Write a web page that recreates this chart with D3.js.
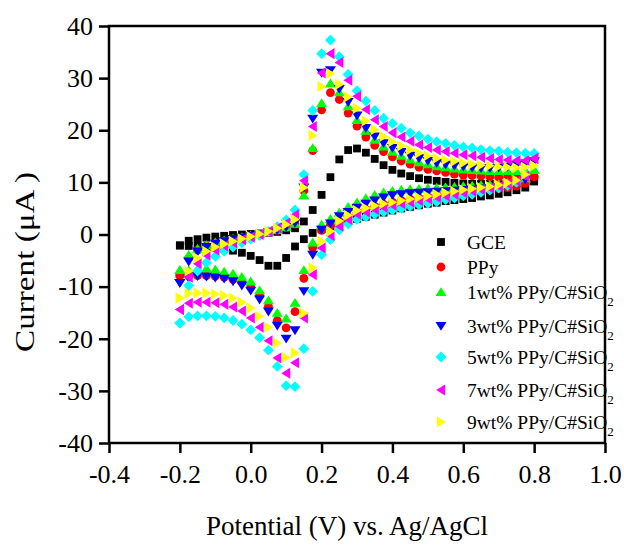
<!DOCTYPE html>
<meta charset="utf-8">
<style>

body {
  margin: 0;
  background: #fff;
}

svg {
  display: block;
  font-family: "Liberation Serif", "Times New Roman", serif;
}

.axis line {
  stroke: #000;
  stroke-width: 2.5;
}

.frame {
  fill: none;
  stroke: #000;
  stroke-width: 2.5;
}

.title {
  font-size: 27px;
}

.legend text {
  font-size: 19.5px;
}

</style>
<body>
<script src="https://d3js.org/d3.v7.min.js"></script>
<script>

// potential steps of the sweep (V)
var potential = [-0.2, -0.175, -0.15, -0.125, -0.1, -0.075, -0.05, -0.025, 0, 0.025,
  0.05, 0.075, 0.1, 0.125, 0.15, 0.175, 0.2, 0.225, 0.25, 0.275,
  0.3, 0.325, 0.35, 0.375, 0.4, 0.425, 0.45, 0.475, 0.5, 0.525,
  0.55, 0.575, 0.6, 0.625, 0.65, 0.675, 0.7, 0.725, 0.75, 0.775, 0.8];

// forward sweeps (-0.2 -> 0.8), current in uA
var gceFwd = [-2.1, -1.2, -0.9, -0.6, -0.4, -0.25, -0.1, 0.0, 0.1, 0.2, 0.35, 0.5, 0.8, 1.2, 2.5, 4.7, 7.6, 11.0, 14.4, 16.2,
  16.5, 15.7, 14.5, 13.3, 12.4, 11.7, 11.2, 10.8, 10.5, 10.3, 10.1, 9.9, 9.8, 9.7, 9.7, 9.7, 9.7, 9.8, 9.9, 10.0, 10.2];
var ppyFwd = [-7.9, -4.5, -3.0, -2.2, -1.7, -1.3, -0.9, -0.6, -0.3, 0.0, 0.4, 0.8, 1.3, 2.0, 8.4, 16.1, 23.9, 27.2, 25.9, 23.3,
  20.8, 18.7, 17.1, 15.9, 14.9, 14.1, 13.5, 12.9, 12.5, 12.2, 11.9, 11.6, 11.4, 11.3, 11.2, 11.1, 11.0, 11.0, 11.0, 11.0, 11.1];
var wt1Fwd = [-6.8, -3.9, -2.7, -2.0, -1.5, -1.1, -0.8, -0.5, -0.2, 0.1, 0.5, 0.9, 1.4, 2.1, 7.5, 16.6, 25.2, 29.0, 27.3, 24.6,
  22.0, 19.9, 18.2, 16.9, 15.9, 15.1, 14.4, 13.9, 13.5, 13.1, 12.9, 12.7, 12.5, 12.4, 12.3, 12.2, 12.2, 12.2, 12.2, 12.3, 12.4];
var wt3Fwd = [-9.3, -5.2, -3.3, -2.4, -1.8, -1.3, -0.9, -0.6, -0.3, 0.0, 0.4, 0.8, 1.4, 2.2, 9.0, 22.2, 31.0, 31.5, 27.9, 25.4,
  22.8, 20.4, 18.8, 17.5, 16.6, 15.8, 15.1, 14.6, 14.1, 13.7, 13.4, 13.2, 13.0, 12.8, 12.7, 12.7, 12.8, 13.0, 13.3, 13.6, 14.0];
var wt5Fwd = [-17.0, -9.8, -7.0, -5.4, -4.2, -3.2, -2.4, -1.6, -0.9, -0.2, 0.6, 1.5, 2.8, 4.7, 11.5, 23.8, 34.7, 37.3, 34.1, 30.7,
  27.6, 25.6, 23.8, 22.3, 21.3, 20.4, 19.5, 18.9, 18.3, 17.8, 17.5, 17.1, 16.8, 16.6, 16.3, 16.1, 16.0, 15.8, 15.7, 15.6, 15.5];
var wt7Fwd = [-14.4, -8.2, -5.6, -4.0, -3.0, -2.2, -1.6, -1.0, -0.5, 0.0, 0.6, 1.3, 2.2, 3.8, 10.3, 20.7, 31.0, 34.7, 33.0, 29.6,
  26.5, 24.0, 22.0, 20.7, 19.5, 18.7, 17.9, 17.2, 16.7, 16.2, 15.9, 15.6, 15.3, 15.1, 14.8, 14.6, 14.4, 14.3, 14.2, 14.2, 14.6];
var wt9Fwd = [-12.2, -7.0, -4.5, -3.2, -2.4, -1.8, -1.3, -0.8, -0.4, 0.1, 0.6, 1.2, 1.9, 2.9, 9.0, 19.0, 28.4, 30.9, 28.8, 26.4,
  24.2, 21.8, 20.1, 18.8, 17.8, 17.0, 16.2, 15.6, 15.1, 14.6, 14.3, 14.0, 13.7, 13.5, 13.3, 13.2, 13.0, 12.9, 12.8, 12.9, 13.2];

// reverse sweeps (0.8 -> -0.2)
var gceRev = [10.2, 9.0, 8.5, 8.1, 7.8, 7.5, 7.3, 7.0, 6.8, 6.6, 6.4, 6.1, 5.9, 5.6, 5.3, 5.0, 4.6, 4.2, 3.8, 3.4,
  3.0, 2.6, 2.1, 1.6, 1.0, 0.3, -0.9, -2.3, -4.5, -6.0, -6.0, -4.9, -4.1, -3.5, -3.1, -2.8, -2.6, -2.4, -2.3, -2.2, -2.1];
var ppyRev = [11.1, 9.8, 9.3, 9.0, 8.8, 8.6, 8.4, 8.2, 8.0, 7.8, 7.6, 7.4, 7.2, 7.0, 6.8, 6.5, 6.2, 5.8, 5.4, 4.8,
  4.2, 3.4, 2.5, 1.7, 0.8, -2.5, -8.4, -14.8, -17.9, -16.5, -13.8, -11.7, -10.1, -9.2, -8.6, -8.2, -8.0, -7.9, -7.9, -7.9, -7.9];
var wt1Rev = [12.4, 10.8, 10.2, 9.9, 9.7, 9.6, 9.5, 9.4, 9.3, 9.2, 9.1, 9.0, 8.9, 8.8, 8.7, 8.6, 8.4, 8.1, 7.6, 7.0,
  6.2, 5.3, 4.2, 3.0, 1.9, -1.5, -6.8, -13.1, -16.1, -15.0, -12.6, -10.7, -9.0, -8.1, -7.5, -7.1, -6.7, -6.5, -6.6, -6.8, -6.8];
var wt3Rev = [14.0, 10.5, 9.8, 9.4, 9.1, 8.9, 8.8, 8.6, 8.5, 8.4, 8.3, 8.2, 8.1, 8.0, 7.9, 7.7, 7.5, 7.1, 6.5, 5.9,
  5.1, 4.3, 3.5, 2.1, 0.9, -3.9, -10.9, -18.4, -20.0, -17.5, -14.8, -12.5, -10.8, -9.8, -9.0, -8.5, -8.3, -8.1, -8.0, -8.4, -9.3];
var wt5Rev = [15.5, 11.5, 10.0, 9.4, 8.9, 8.5, 8.1, 7.7, 7.4, 7.0, 6.7, 6.3, 6.0, 5.7, 5.4, 5.0, 4.7, 4.3, 3.9, 3.4,
  2.9, 2.0, 0.9, -1.0, -3.9, -10.9, -21.9, -29.2, -29.0, -25.3, -22.2, -19.8, -18.3, -17.2, -16.5, -16.0, -15.7, -15.6, -15.6, -15.8, -17.0];
var wt7Rev = [14.6, 11.2, 10.2, 9.7, 9.2, 8.9, 8.6, 8.3, 8.0, 7.7, 7.4, 7.1, 6.8, 6.5, 6.2, 5.9, 5.6, 5.2, 4.8, 4.3,
  3.9, 2.9, 1.6, -0.2, -2.6, -7.7, -16.0, -24.6, -26.6, -23.7, -20.4, -17.8, -16.0, -14.7, -13.9, -13.4, -13.1, -13.0, -13.0, -13.2, -14.4];
var wt9Rev = [13.2, 11.5, 10.4, 9.9, 9.5, 9.2, 9.0, 8.8, 8.6, 8.3, 8.0, 7.7, 7.4, 7.1, 6.8, 6.5, 6.2, 5.9, 5.5, 5.1,
  4.6, 3.7, 2.6, 0.6, -1.3, -6.4, -15.1, -22.7, -23.6, -20.8, -17.8, -15.7, -14.1, -13.0, -12.2, -11.7, -11.4, -11.2, -11.2, -11.3, -12.2];

var labels = ["GCE", "PPy", "1wt% PPy/C#SiO", "3wt% PPy/C#SiO", "5wt% PPy/C#SiO", "7wt% PPy/C#SiO", "9wt% PPy/C#SiO"];
var colors = ["#000000", "#ff0000", "#00ff00", "#0000ff", "#00ffff", "#ff00ff", "#ffff00"];
var xTicks = [-0.4, -0.2, 0.0, 0.2, 0.4, 0.6, 0.8, 1.0];
var yTicks = [-40, -30, -20, -10, 0, 10, 20, 30, 40];

// marker shapes, size = half extent in px
var shapes = {
  square:  {draw: function(c, r) { c.rect(-r, -r, 2 * r, 2 * r); }},
  circle:  {draw: function(c, r) { c.moveTo(r, 0); c.arc(0, 0, r, 0, 2 * Math.PI); }},
  up:      {draw: function(c, r) { c.moveTo(0, -r); c.lineTo(r * 1.15, r * 0.85); c.lineTo(-r * 1.15, r * 0.85); c.closePath(); }},
  down:    {draw: function(c, r) { c.moveTo(0, r); c.lineTo(r * 1.15, -r * 0.85); c.lineTo(-r * 1.15, -r * 0.85); c.closePath(); }},
  diamond: {draw: function(c, r) { c.moveTo(0, -r); c.lineTo(r, 0); c.lineTo(0, r); c.lineTo(-r, 0); c.closePath(); }},
  left:    {draw: function(c, r) { c.moveTo(-r, 0); c.lineTo(r * 0.85, -r * 1.15); c.lineTo(r * 0.85, r * 1.15); c.closePath(); }},
  right:   {draw: function(c, r) { c.moveTo(r, 0); c.lineTo(-r * 0.85, -r * 1.15); c.lineTo(-r * 0.85, r * 1.15); c.closePath(); }}
};
var markers = [["square", 3.9], ["circle", 4.4], ["up", 4.8], ["down", 4.8], ["diamond", 5.4], ["left", 4.8], ["right", 4.8]];

var fwd = [gceFwd, ppyFwd, wt1Fwd, wt3Fwd, wt5Fwd, wt7Fwd, wt9Fwd];
var rev = [gceRev, ppyRev, wt1Rev, wt3Rev, wt5Rev, wt7Rev, wt9Rev];
var potentialRev = potential.slice().reverse();

var series = labels.map(function(label, i) {
  var pts = fwd[i].map(function(v, k) { return {E: potential[k], I: v}; })
    .concat(rev[i].map(function(v, k) { return {E: potentialRev[k], I: v}; }));
  return {label: label, color: colors[i], shape: markers[i][0], r: markers[i][1], points: pts, sub: i > 1};
});

var margin = {top: 26, right: 19, bottom: 102, left: 109},
    width = 624 - margin.left - margin.right,
    height = 545 - margin.top - margin.bottom;

var svg = d3.select("body").append("svg")
    .attr("width", width + margin.left + margin.right)
    .attr("height", height + margin.top + margin.bottom)
  .append("g")
    .attr("transform", "translate(" + margin.left + "," + margin.top + ")");

var x = d3.scaleLinear().domain([-0.4, 1.0]).range([0, width]);
var y = d3.scaleLinear().domain([-40, 40]).range([height, 0]);

function hyphen(fmt) {
  return function(d) { return fmt(d).replace("\u2212", "-"); };
}

function serifAxis(g) {
  g.attr("font-family", null).attr("font-size", null);
  g.select(".domain").remove();
  g.selectAll("text")
    .style("font-family", "'Liberation Serif', 'Times New Roman', serif")
    .style("font-size", "26px")
    .style("fill", "#000");
}

svg.append("g")
    .attr("class", "x axis")
    .attr("transform", "translate(0," + height + ")")
    .call(d3.axisBottom(x).tickValues(xTicks).tickFormat(hyphen(d3.format(".1f"))).tickSize(10).tickSizeOuter(0).tickPadding(12))
    .call(serifAxis);

svg.append("g")
    .attr("class", "y axis")
    .call(d3.axisLeft(y).tickValues(yTicks).tickFormat(hyphen(d3.format("d"))).tickSize(10).tickSizeOuter(0).tickPadding(6))
    .call(serifAxis);

var symbol = d3.symbol();

series.forEach(function(s) {
  svg.append("g")
    .selectAll("path")
    .data(s.points)
  .enter().append("path")
    .attr("transform", function(d) { return "translate(" + x(d.E) + "," + y(d.I) + ")"; })
    .attr("d", symbol.type(shapes[s.shape]).size(s.r)())
    .attr("fill", s.color);
});

svg.append("rect")
    .attr("class", "frame")
    .attr("width", width)
    .attr("height", height);

// legend
var legendRows = [216, 241, 266, 300, 331, 364, 396];
var legend = svg.append("g").attr("class", "legend");
series.forEach(function(s, i) {
  var row = legend.append("g").attr("transform", "translate(332," + legendRows[i] + ")");
  row.append("path")
    .attr("d", d3.symbol().type(shapes[s.shape]).size(s.r)())
    .attr("fill", s.color);
  var t = row.append("text").attr("x", 26).attr("y", 7);
  t.append("tspan").text(s.label);
  if (s.sub) t.append("tspan").attr("dy", 7).style("font-size", "13px").text("2");
});

svg.append("text")
    .attr("class", "title")
    .attr("x", 238)
    .attr("y", 509)
    .attr("text-anchor", "middle")
    .text("Potential (V) vs. Ag/AgCl");

svg.append("text")
    .attr("class", "title")
    .attr("text-anchor", "middle")
    .style("font-size", "28px")
    .attr("textLength", 180)
    .attr("lengthAdjust", "spacingAndGlyphs")
    .attr("transform", "translate(-75," + 236 + ") rotate(-90)")
    .text("Current (\u03bcA )");

</script>
